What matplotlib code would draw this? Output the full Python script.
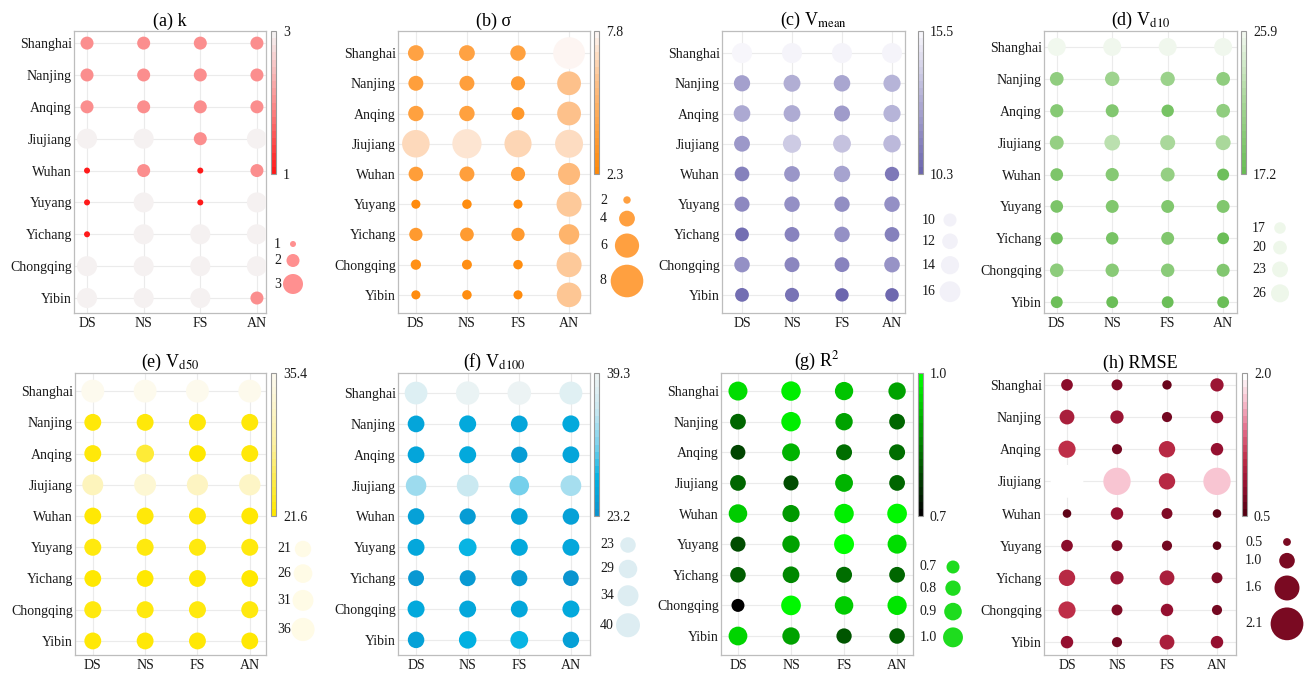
import numpy as np
import matplotlib
matplotlib.use('Agg')
import matplotlib.pyplot as plt
from matplotlib.colors import LinearSegmentedColormap, Normalize
from matplotlib.cm import ScalarMappable

plt.rcParams['font.family'] = ['Liberation Serif', 'DejaVu Serif']
plt.rcParams['mathtext.fontset'] = 'stix'

W, H = 1304, 673

sites = ['Shanghai', 'Nanjing', 'Anqing', 'Jiujiang', 'Wuhan',
         'Yuyang', 'Yichang', 'Chongqing', 'Yibin']
seasons = ['DS', 'NS', 'FS', 'AN']

# rows follow sites, columns follow seasons
k_vals = [[2, 2, 2, 2], [2, 2, 2, 2], [2, 2, 2, 2], [3, 3, 2, 3], [1, 2, 1, 2],
          [1, 3, 1, 3], [1, 3, 3, 3], [3, 3, 3, 3], [3, 3, 3, 2]]
sigma_vals = [[4.0, 4.0, 3.9, 7.8], [3.8, 3.8, 3.6, 5.9], [3.9, 3.9, 3.3, 5.9],
              [6.8, 7.2, 6.7, 6.9], [3.7, 3.8, 3.6, 5.5], [2.4, 2.5, 2.4, 6.2],
              [3.4, 3.5, 3.4, 5.1], [2.7, 2.6, 2.5, 6.2], [2.4, 2.5, 2.4, 6.1]]
vmean_vals = [[15.5, 15.4, 15.4, 15.4], [12.5, 13.0, 12.7, 13.2], [12.8, 12.9, 12.3, 13.2],
              [12.2, 14.0, 13.7, 13.4], [11.3, 12.1, 12.6, 11.0], [11.6, 11.9, 11.8, 11.9],
              [10.6, 11.4, 11.9, 11.3], [11.9, 11.5, 11.4, 12.0], [10.6, 10.8, 10.3, 10.4]]
vd10_vals = [[25.9, 25.8, 25.8, 25.8], [20.0, 21.0, 20.8, 20.0], [19.3, 19.0, 18.2, 20.0],
             [20.3, 22.8, 21.8, 21.8], [18.6, 19.3, 20.3, 17.6], [18.5, 18.9, 18.9, 18.9],
             [17.8, 18.3, 18.9, 17.4], [19.8, 19.5, 19.6, 19.0], [17.5, 17.4, 17.4, 17.4]]
vd50_vals = [[35.4, 35.3, 35.3, 35.2], [22.0, 22.0, 22.0, 22.0], [22.0, 24.0, 21.6, 22.0],
             [31.0, 33.0, 31.5, 31.8], [21.8, 22.0, 22.0, 21.8], [22.2, 22.2, 22.2, 22.2],
             [21.7, 21.7, 21.8, 21.7], [22.3, 22.2, 22.2, 22.3], [21.9, 21.9, 21.9, 21.8]]
vd100_vals = [[37.5, 38.8, 39.0, 37.8], [25.5, 26.0, 25.5, 26.0], [25.5, 26.0, 24.5, 25.5],
              [33.0, 35.5, 31.0, 33.5], [25.0, 24.3, 25.2, 25.0], [25.8, 27.5, 26.0, 25.8],
              [23.8, 24.0, 24.2, 23.4], [26.0, 25.8, 25.8, 26.0], [25.0, 27.0, 27.5, 24.8]]
r2_vals = [[0.96, 0.98, 0.93, 0.89], [0.82, 0.98, 0.89, 0.82], [0.78, 0.91, 0.83, 0.83],
           [0.82, 0.79, 0.91, 0.82], [0.94, 0.88, 0.98, 0.99], [0.79, 0.89, 1.00, 0.96],
           [0.81, 0.86, 0.83, 0.82], [0.70, 0.99, 0.94, 0.97], [0.95, 0.89, 0.80, 0.81]]
rmse_vals = [[0.75, 0.70, 0.60, 0.85], [0.95, 0.85, 0.65, 0.80], [1.10, 0.65, 1.05, 0.80],
             [2.10, 1.75, 1.05, 1.75], [0.55, 0.80, 0.70, 0.55], [0.75, 0.70, 0.65, 0.55],
             [1.05, 0.85, 0.95, 0.70], [1.10, 0.70, 0.80, 0.65], [0.80, 0.65, 0.95, 0.80]]

k_breaks = [1, 2, 3]
sigma_breaks = [2, 4, 6, 8]
vmean_breaks = [10, 12, 14, 16]
vd10_breaks = [17, 20, 23, 26]
vd50_breaks = [21, 26, 31, 36]
vd100_breaks = [23, 29, 34, 40]
r2_breaks = [0.7, 0.8, 0.9, 1.0]
rmse_breaks = [0.5, 1.0, 1.6, 2.1]

panels = [
    dict(title='(a) k', vals=k_vals, lim=(1, 3), fmt='{:.0f}', breaks=k_breaks, bfmt='{:.0f}',
         colors=['#FF1A1A', '#FB8E8E', '#F5F1F1'], size=(-1, 7), key='#FF9090',
         frame=(74, 31, 266, 313), xpad=(0.23, 0.16), ypad=(0.38, 0.47),
         cbx=271, leg=(274, 293, 244)),
    dict(title='(b) σ', vals=sigma_vals, lim=(2.3, 7.8), fmt='{:.1f}', breaks=sigma_breaks, bfmt='{:.0f}',
         colors=['#FF8A0A', '#FFA447', '#FDC28D', '#FDF5F2'], size=(-1, 4.2), key='#FFA040',
         frame=(398, 31, 590, 313), xpad=(0.35, 0.41), ypad=(0.73, 0.6),
         cbx=594, leg=(600, 627, 200)),
    dict(title=r'(c) V$_{\mathrm{mean}}$', vals=vmean_vals, lim=(10.3, 15.5), fmt='{:.1f}',
         breaks=vmean_breaks, bfmt='{:.0f}',
         colors=['#6C66AE', '#AEABD3', '#F7F6FB'], size=(0, 1.3), key='#F2F1F8',
         frame=(722, 31, 905, 313), xpad=(0.4, 0.26), ypad=(0.73, 0.6),
         cbx=918, leg=(922, 950, 220)),
    dict(title=r'(d) V$_{\mathrm{d10}}$', vals=vd10_vals, lim=(17.2, 25.9), fmt='{:.1f}',
         breaks=vd10_breaks, bfmt='{:.0f}',
         colors=['#69BD55', '#A6D696', '#F1F8EE'], size=(-0.7, 0.72), key='#EEF7EA',
         frame=(1044, 31, 1237, 313), xpad=(0.23, 0.25), ypad=(0.5, 0.34),
         cbx=1241, leg=(1252, 1280, 228)),
    dict(title=r'(e) V$_{\mathrm{d50}}$', vals=vd50_vals, lim=(21.6, 35.4), fmt='{:.1f}',
         breaks=vd50_breaks, bfmt='{:.0f}',
         colors=['#FFE800', '#FDF0A0', '#FDFAEE'], size=(7, 0.45), key='#FFFBE6',
         frame=(75, 373, 266, 655), xpad=(0.34, 0.31), ypad=(0.58, 0.45),
         cbx=271, leg=(277, 303, 549)),
    dict(title=r'(f) V$_{\mathrm{d100}}$', vals=vd100_vals, lim=(23.2, 39.3), fmt='{:.1f}',
         breaks=vd100_breaks, bfmt='{:.0f}',
         colors=['#0A94CF', '#00B2E2', '#7CD2EC', '#C8E8F1', '#EEF4F4'], size=(4, 0.5), key='#DDEDF2',
         frame=(398, 373, 590, 655), xpad=(0.35, 0.37), ypad=(0.65, 0.49),
         cbx=594, leg=(600, 628, 545)),
    dict(title=r'(g) R$^2$', vals=r2_vals, lim=(0.7, 1.0), fmt='{:.1f}', breaks=r2_breaks, bfmt='{:.1f}',
         colors=['#000000', '#00FF00'], size=(-3.1, 23), key='#1EDC1E',
         frame=(721, 373, 913, 655), xpad=(0.32, 0.3), ypad=(0.59, 0.62),
         cbx=918, leg=(920, 953, 567)),
    dict(title='(h) RMSE', vals=rmse_vals, lim=(0.5, 2.0), fmt='{:.1f}', breaks=rmse_breaks, bfmt='{:.1f}',
         colors=['#550012', '#951030', '#BE2E48', '#E26A88', '#F7B8C8', '#FFFFFF'], size=(0, 15.6),
         key='#7A0A22', frame=(1044, 373, 1236, 655), xpad=(0.46, 0.38), ypad=(0.37, 0.4),
         cbx=1242, leg=(1245, 1287, 542)),
]


def rect(x0, y0, x1, y1):
    return [x0 / W, 1 - y1 / H, (x1 - x0) / W, (y1 - y0) / H]


def diam_to_s(d):
    # pixel diameter -> marker area in pt^2 (dpi 100)
    return (np.asarray(d) * 0.72) ** 2


def draw_panel(fig, overlay, p):
    vals = np.array(p['vals'], dtype=float)
    vmin, vmax = p['lim']
    cmap = LinearSegmentedColormap.from_list('c', p['colors'])
    norm = Normalize(vmin, vmax)
    a, b = p['size']

    ax = fig.add_axes(rect(*p['frame']))
    xx, yy = np.meshgrid(np.arange(len(seasons)), np.arange(len(sites)))
    ax.scatter(xx.ravel(), yy.ravel(), s=diam_to_s(a + b * vals.ravel()),
               c=vals.ravel(), cmap=cmap, norm=norm, linewidths=0, zorder=3)
    ax.set_xticks(range(len(seasons)))
    ax.set_xticklabels(seasons)
    ax.set_yticks(range(len(sites)))
    ax.set_yticklabels(sites)
    ax.set_xlim(-p['xpad'][0], len(seasons) - 1 + p['xpad'][1])
    ax.set_ylim(len(sites) - 1 + p['ypad'][1], -p['ypad'][0])
    ax.grid(color='#EBEBEB', lw=0.8)
    ax.set_axisbelow(True)
    ax.tick_params(length=0, labelsize=10, colors='#1A1A1A')
    ax.tick_params(axis='y', pad=1.5)
    ax.tick_params(axis='x', pad=3)
    for sp in ax.spines.values():
        sp.set_edgecolor('#BDBDBD')
        sp.set_linewidth(0.9)
    ax.set_title(p['title'], fontsize=13, pad=4)

    # colour bar
    top = p['frame'][1]
    cax = fig.add_axes(rect(p['cbx'], top, p['cbx'] + 5, top + 143))
    sm = ScalarMappable(norm=norm, cmap=cmap.resampled(20))
    cb = fig.colorbar(sm, cax=cax, ticks=[vmin, vmax])
    cb.ax.set_yticklabels([p['fmt'].format(vmin), p['fmt'].format(vmax)])
    cb.outline.set_edgecolor('#9A9A9A')
    cb.outline.set_linewidth(0.8)
    cax.tick_params(length=0, pad=5, labelsize=10, colors='#1A1A1A')

    # size legend
    lx, cx, y = p['leg']
    d = a + b * np.array(p['breaks'], dtype=float)
    ys = [y]
    for i in range(1, len(d)):
        ys.append(ys[-1] + d[i - 1] / 2 + 7 + d[i] / 2)
    overlay.scatter([cx] * len(d), ys, s=diam_to_s(d), color=p['key'], linewidths=0)
    for yv, br in zip(ys, p['breaks']):
        overlay.text(lx, yv, p['bfmt'].format(br), ha='left', va='center',
                     fontsize=10, color='#1A1A1A')


def main():
    fig = plt.figure(figsize=(W / 100, H / 100), dpi=100)
    overlay = fig.add_axes([0, 0, 1, 1])
    overlay.set_xlim(0, W)
    overlay.set_ylim(H, 0)
    overlay.axis('off')
    for p in panels:
        draw_panel(fig, overlay, p)
    fig.savefig('out.png', dpi=100)


if __name__ == '__main__':
    main()
